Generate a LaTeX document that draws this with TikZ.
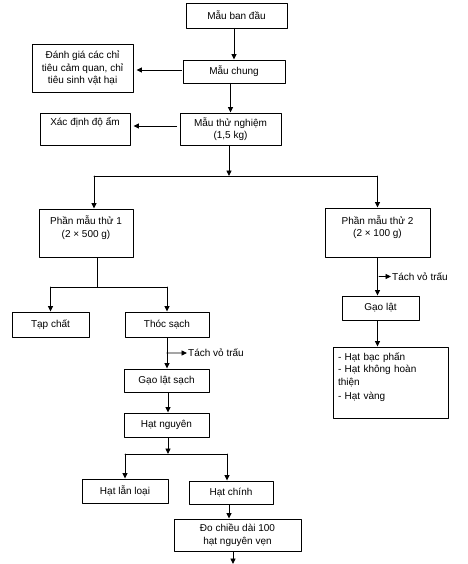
\documentclass[tikz,border=0pt]{standalone}
\usepackage{fontspec}
\setmainfont{Liberation Sans}
\usetikzlibrary{arrows.meta,calc}

\begin{document}
\begin{tikzpicture}[x=1pt, y=-1pt, line cap=round, line join=round,
    >={Triangle[length=5.5pt,width=5pt]},
    box/.style={draw, line width=0.9pt, inner sep=1pt, align=center,
        font=\fontsize{10}{12.5}\selectfont},
    wh/.style 2 args={minimum width=#1pt, minimum height=#2pt},
    lbl/.style={anchor=west, inner sep=1pt, font=\fontsize{10}{12.5}\selectfont},
    arr/.style={->, line width=0.9pt},
    link/.style={line width=0.9pt}]

    % Page size of the reference
    \useasboundingbox (0,0) rectangle (467,564);

    % Top of the chart
    \node[box, wh={101}{25}] (bandau) at (236.5,15.5) {Mẫu ban đầu};
    \node[box, wh={102}{23}] (chung) at (234,71.5) {Mẫu chung};
    \node[box, wh={101}{48}] (danhgia) at (82.5,68) {Đánh giá các chỉ\\tiêu cảm quan, chỉ\\tiêu sinh vật hại};
    \node[box, wh={101}{32}] (thunghiem) at (230.5,129) {Mẫu thử nghiệm\\(1,5 kg)};
    \node[box, wh={90}{32}] (doam) at (85,129) {Xác định độ ẩm\\[3pt]\mbox{}};

    % The two sample parts
    \node[box, wh={94}{48}] (phan1) at (86,233) {Phần mẫu thử 1\\(2 × 500 g)\\\mbox{}};
    \node[box, wh={105}{49}] (phan2) at (377.5,232.5) {Phần mẫu thử 2\\(2 × 100 g)\\\mbox{}};

    % Left branch
    \node[box, wh={77}{25}] (tapchat) at (50.5,324.5) {Tạp chất};
    \node[box, wh={84}{25}] (thocsach) at (167,324.5) {Thóc sạch};
    \node[box, wh={85}{23}] (gaolatsach) at (166.5,380.5) {Gạo lật sạch};
    \node[box, wh={85}{24}] (hatnguyen) at (166.5,425) {Hạt nguyên};
    \node[box, wh={86}{24}] (hatlanloai) at (125,491) {Hạt lẫn loại};
    \node[box, wh={84}{23}] (hatchinh) at (231,492.5) {Hạt chính};
    \node[box, wh={127}{32}] (dochieudai) at (237.5,535) {Đo chiều dài 100\\hạt nguyên vẹn};

    % Right branch
    \node[box, wh={77}{24}] (gaolat) at (380.5,308) {Gạo lật};
    \node[box, wh={115}{71}, align=left, text width=105pt] (dsach) at (390.5,382.5)
        {- Hạt bạc phấn\\- Hạt không hoàn\\thiện\\[2pt]- Hạt vàng\\\mbox{}};

    % Husking labels
    \node[lbl] (tach1) at (187,353) {Tách vỏ trấu};
    \node[lbl] (tach2) at (391,276.5) {Tách vỏ trấu};

    % Branch points
    \coordinate (split1) at (229,176);
    \coordinate (split2) at (97,287);
    \coordinate (split3) at (168,454);
    \coordinate (husk1) at ($(thocsach.south)!0.5!(gaolatsach.north)$);
    \coordinate (husk2) at ($(phan2.south)!0.5!(gaolat.north)$);
    \coordinate (end) at (233,564);

    % Main line
    \draw[arr] (bandau.south -| chung) -- (chung.north);
    \draw[arr] (chung.south -| thunghiem) -- (thunghiem.north);
    \draw[arr, shorten >=3pt] ([xshift=-1pt, yshift=1.5pt]chung.west) -- ([yshift=1.5pt]chung.west -| danhgia.east);
    \draw[arr, shorten >=3pt] ([xshift=-3pt, yshift=3pt]thunghiem.west) -- ([yshift=3pt]thunghiem.west -| doam.east);

    % Split into two parts
    \draw[arr] (thunghiem.south -| split1) -- (split1);
    \draw[link] ([xshift=8pt]phan1.north |- split1) -- (split1 -| phan2.north);
    \draw[arr] ([xshift=8pt]phan1.north |- split1) -- ([xshift=8pt]phan1.north);
    \draw[arr] (split1 -| phan2.north) -- (phan2.north);

    % Left branch
    \draw[link] (phan1.south -| split2) -- (split2);
    \draw[link] (split2 -| tapchat.north) -- (split2 -| thocsach.north);
    \draw[arr] (split2 -| tapchat.north) -- (tapchat.north);
    \draw[arr] (split2 -| thocsach.north) -- (thocsach.north);
    \draw[arr] (thocsach.south) -- (thocsach.south |- gaolatsach.north);
    \draw[arr] (husk1) -- (tach1.west);
    \draw[arr] (gaolatsach.south -| split3) -- (split3 |- hatnguyen.north);
    \draw[arr] (hatnguyen.south -| split3) -- (split3);
    \draw[link] (split3 -| hatlanloai.north) -- ([xshift=-4pt]split3 -| hatchinh.north);
    \draw[arr] (split3 -| hatlanloai.north) -- (hatlanloai.north);
    \draw[arr] ([xshift=-4pt]split3 -| hatchinh.north) -- ([xshift=-4pt]hatchinh.north);
    \draw[arr] ([xshift=-2pt]hatchinh.south) -- ([xshift=-2pt]hatchinh.south |- dochieudai.north);
    \draw[arr] (dochieudai.south -| end) -- (end);

    % Right branch
    \draw[arr] (phan2.south) -- (phan2.south |- gaolat.north);
    \draw[arr] (husk2) -- (tach2.west);
    \draw[arr] (gaolat.south -| phan2) -- (phan2 |- dsach.north);

\end{tikzpicture}
\end{document}
